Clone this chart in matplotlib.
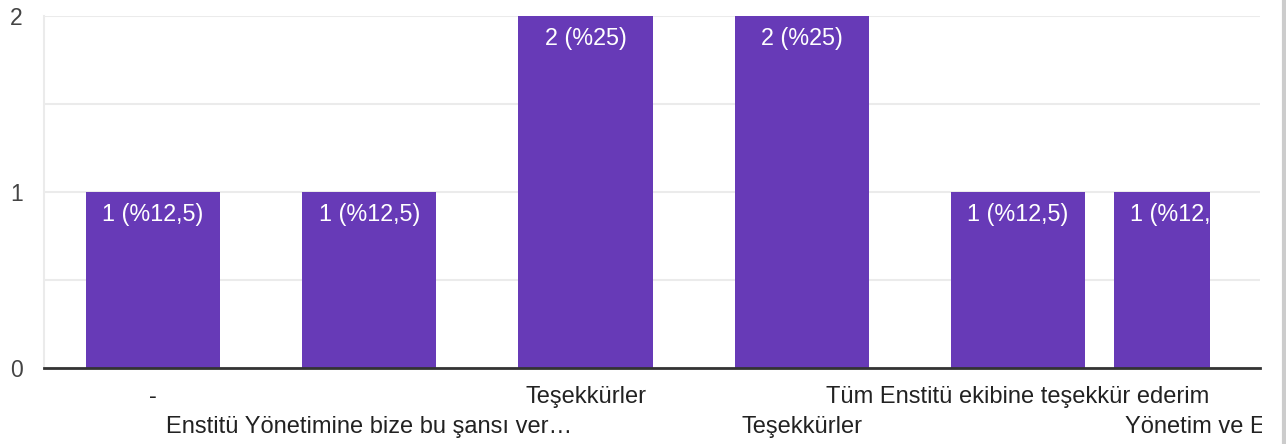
import matplotlib
matplotlib.use("Agg")
from matplotlib import pyplot as plt
import matplotlib.transforms as mtrans

plt.rcParams['font.family'] = ['Liberation Sans', 'DejaVu Sans']

# answers and counts
answers = ["-", "Enstitü Yönetimine bize bu şansı ver…", "Teşekkürler",
           "Teşekkürler", "Tüm Enstitü ekibine teşekkür ederim", "Yönetim ve Enstitü…"]
counts = [1, 1, 2, 2, 1, 1]
labels = ["1 (%12,5)", "1 (%12,5)", "2 (%25)", "2 (%25)", "1 (%12,5)", "1 (%12,5)"]

purple = "#673ab7"

fig = plt.figure(figsize=(12.86, 4.44), dpi=100)
ax = fig.add_axes([44 / 1286, 1 - 368 / 444, 1216 / 1286, 352 / 444])

# the last bar is partly scrolled out of view in the original
xpos = [0, 1, 2, 3, 4, 4.754]
bw = 0.62
bars = ax.bar(xpos, counts, width=bw, color=purple, zorder=2)

# clip the last bar at the visible edge
clip_x = 4.888
last = bars[-1]
last.set_width(clip_x - last.get_x())

for b, x, c, lab in zip(bars, xpos, counts, labels):
    t = ax.text(x, c - 0.06, lab, ha='center', va='top', color='white',
                fontsize=16.8, zorder=3)
    t.set_clip_path(b)

ax.set_xlim(-0.504, 5.119)
ax.set_ylim(0, 2)
ax.set_yticks([0, 1, 2])
ax.set_yticks([0.5, 1.5], minor=True)
ax.grid(axis='y', which='both', color='#ebebeb', linewidth=1.5, zorder=0)
ax.tick_params(axis='y', which='both', length=0)
ax.tick_params(axis='y', labelsize=16.5, labelcolor='#444444', pad=20)
for lbl in ax.get_yticklabels():
    lbl.set_horizontalalignment('center')

ax.set_xticks([])
for s in ['top', 'right']:
    ax.spines[s].set_visible(False)
ax.spines['left'].set_color('#ebebeb')
ax.spines['left'].set_linewidth(1.5)
ax.spines['bottom'].set_color('#333333')
ax.spines['bottom'].set_linewidth(2)
ax.spines['bottom'].set_zorder(4)

# category labels in two staggered rows, cut at the chart's right edge
clipbox = mtrans.TransformedBbox(mtrans.Bbox.from_extents(0, 0, 1262, 444),
                                 mtrans.IdentityTransform())
for i, (x, a) in enumerate(zip(xpos, answers)):
    y = -0.163 if i % 2 == 0 else -0.338
    ha = 'center'
    if i == len(answers) - 1:
        # long label starts left of its bar centre and runs off the edge
        x, ha = 4.495, 'left'
    t = ax.text(x, y, a, ha=ha, va='center', fontsize=17,
                color='#222222', clip_on=True)
    t.set_clip_box(clipbox)

# scroll frame line on the right
fig.add_artist(plt.Line2D([1284 / 1286, 1284 / 1286], [0, 1], color='#cccccc',
                          linewidth=3, transform=fig.transFigure))

plt.savefig('out.png', dpi=100)
